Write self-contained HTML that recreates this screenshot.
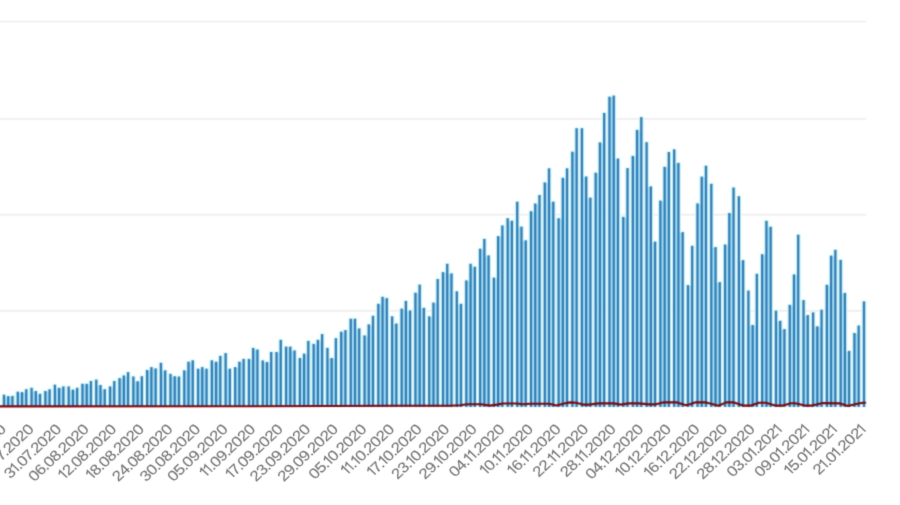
<!DOCTYPE html>
<html><head><meta charset="utf-8"><title>chart</title>
<style>
html,body{margin:0;padding:0;background:#fff;}
body{width:900px;height:505px;overflow:hidden;position:relative;font-family:"Liberation Sans",sans-serif;}
svg{position:absolute;left:0;top:0;display:block;}
.lb{font-family:"Liberation Sans",sans-serif;font-size:14.5px;fill:#777777;stroke:#777777;stroke-width:0.12px;}
</style></head><body>
<svg width="900" height="505" viewBox="0 0 900 505">
<defs><filter id="bl" filterUnits="userSpaceOnUse" x="0" y="0" width="900" height="505" color-interpolation-filters="sRGB"><feConvolveMatrix order="7 1" kernelMatrix="0.0001 0.0096 0.2054 0.5698 0.2054 0.0096 0.0001" edgeMode="duplicate" result="h"/><feConvolveMatrix in="h" order="1 7" kernelMatrix="0.0000 0.0026 0.1655 0.6638 0.1655 0.0026 0.0000" edgeMode="duplicate"/></filter><filter id="bt" filterUnits="userSpaceOnUse" x="0" y="0" width="900" height="505" color-interpolation-filters="sRGB"><feConvolveMatrix order="7 1" kernelMatrix="0.0000 0.0003 0.1065 0.7866 0.1065 0.0003 0.0000" edgeMode="duplicate" result="h"/><feConvolveMatrix in="h" order="1 7" kernelMatrix="0.0000 0.0003 0.1065 0.7866 0.1065 0.0003 0.0000" edgeMode="duplicate"/></filter></defs>
<rect x="0" y="0" width="900" height="505" fill="#ffffff"/>
<g filter="url(#bl)">
<rect x="-5" y="20.8" width="871" height="1.5" fill="#ebebeb"/>
<rect x="-5" y="118.2" width="871" height="1.5" fill="#ebebeb"/>
<rect x="-5" y="213.9" width="871" height="1.5" fill="#ebebeb"/>
<rect x="-5" y="310.1" width="871" height="1.5" fill="#ebebeb"/>
<g fill="#ddfdff">
<rect x="1.35" y="393.9" width="5.30" height="13.1"/>
<rect x="5.59" y="395.3" width="5.30" height="11.7"/>
<rect x="9.83" y="395.1" width="5.30" height="11.9"/>
<rect x="15.14" y="390.9" width="5.30" height="16.1"/>
<rect x="19.38" y="391.3" width="5.30" height="15.7"/>
<rect x="23.62" y="388.4" width="5.30" height="18.6"/>
<rect x="28.92" y="387.0" width="5.30" height="20.0"/>
<rect x="33.16" y="390.2" width="5.30" height="16.8"/>
<rect x="37.40" y="393.0" width="5.30" height="14.0"/>
<rect x="42.71" y="390.2" width="5.30" height="16.8"/>
<rect x="46.95" y="388.5" width="5.30" height="18.5"/>
<rect x="52.25" y="383.9" width="5.30" height="23.1"/>
<rect x="56.49" y="387.0" width="5.30" height="20.0"/>
<rect x="60.73" y="385.6" width="5.30" height="21.4"/>
<rect x="66.03" y="385.6" width="5.30" height="21.4"/>
<rect x="70.28" y="388.8" width="5.30" height="18.2"/>
<rect x="74.52" y="387.0" width="5.30" height="20.0"/>
<rect x="79.82" y="383.0" width="5.30" height="24.0"/>
<rect x="84.06" y="383.0" width="5.30" height="24.0"/>
<rect x="88.30" y="380.2" width="5.30" height="26.8"/>
<rect x="93.60" y="378.8" width="5.30" height="28.2"/>
<rect x="97.85" y="384.2" width="5.30" height="22.8"/>
<rect x="102.09" y="388.4" width="5.30" height="18.6"/>
<rect x="107.39" y="385.6" width="5.30" height="21.4"/>
<rect x="111.63" y="380.2" width="5.30" height="26.8"/>
<rect x="116.93" y="377.3" width="5.30" height="29.7"/>
<rect x="121.18" y="374.6" width="5.30" height="32.4"/>
<rect x="125.42" y="371.3" width="5.30" height="35.7"/>
<rect x="130.72" y="375.7" width="5.30" height="31.3"/>
<rect x="134.96" y="380.4" width="5.30" height="26.6"/>
<rect x="139.20" y="375.4" width="5.30" height="31.6"/>
<rect x="144.50" y="369.2" width="5.30" height="37.8"/>
<rect x="148.75" y="366.3" width="5.30" height="40.7"/>
<rect x="152.99" y="367.6" width="5.30" height="39.4"/>
<rect x="158.29" y="362.0" width="5.30" height="45.0"/>
<rect x="162.53" y="369.5" width="5.30" height="37.5"/>
<rect x="167.83" y="373.1" width="5.30" height="33.9"/>
<rect x="172.07" y="375.4" width="5.30" height="31.6"/>
<rect x="176.32" y="375.7" width="5.30" height="31.3"/>
<rect x="181.62" y="369.5" width="5.30" height="37.5"/>
<rect x="185.86" y="360.9" width="5.30" height="46.1"/>
<rect x="190.10" y="359.5" width="5.30" height="47.5"/>
<rect x="195.40" y="367.9" width="5.30" height="39.1"/>
<rect x="199.64" y="366.3" width="5.30" height="40.7"/>
<rect x="203.89" y="367.9" width="5.30" height="39.1"/>
<rect x="209.19" y="359.5" width="5.30" height="47.5"/>
<rect x="213.43" y="360.9" width="5.30" height="46.1"/>
<rect x="217.67" y="355.1" width="5.30" height="51.9"/>
<rect x="222.97" y="352.3" width="5.30" height="54.7"/>
<rect x="227.22" y="367.9" width="5.30" height="39.1"/>
<rect x="232.52" y="366.3" width="5.30" height="40.7"/>
<rect x="236.76" y="360.9" width="5.30" height="46.1"/>
<rect x="241.00" y="358.1" width="5.30" height="48.9"/>
<rect x="246.30" y="358.1" width="5.30" height="48.9"/>
<rect x="250.54" y="347.1" width="5.30" height="59.9"/>
<rect x="254.79" y="348.7" width="5.30" height="58.3"/>
<rect x="260.09" y="359.6" width="5.30" height="47.4"/>
<rect x="264.33" y="361.2" width="5.30" height="45.8"/>
<rect x="268.57" y="351.2" width="5.30" height="55.8"/>
<rect x="273.87" y="351.2" width="5.30" height="55.8"/>
<rect x="278.11" y="339.0" width="5.30" height="68.0"/>
<rect x="283.42" y="345.8" width="5.30" height="61.2"/>
<rect x="287.66" y="345.8" width="5.30" height="61.2"/>
<rect x="291.90" y="349.6" width="5.30" height="57.4"/>
<rect x="297.20" y="357.2" width="5.30" height="49.8"/>
<rect x="301.44" y="352.8" width="5.30" height="54.2"/>
<rect x="305.68" y="340.1" width="5.30" height="66.9"/>
<rect x="310.99" y="343.1" width="5.30" height="63.9"/>
<rect x="315.23" y="339.0" width="5.30" height="68.0"/>
<rect x="319.47" y="333.3" width="5.30" height="73.7"/>
<rect x="324.77" y="347.1" width="5.30" height="59.9"/>
<rect x="329.01" y="357.2" width="5.30" height="49.8"/>
<rect x="333.26" y="337.4" width="5.30" height="69.6"/>
<rect x="338.56" y="330.9" width="5.30" height="76.1"/>
<rect x="342.80" y="329.3" width="5.30" height="77.7"/>
<rect x="348.10" y="317.9" width="5.30" height="89.1"/>
<rect x="352.34" y="317.9" width="5.30" height="89.1"/>
<rect x="356.58" y="327.6" width="5.30" height="79.4"/>
<rect x="361.89" y="334.6" width="5.30" height="72.4"/>
<rect x="366.13" y="323.6" width="5.30" height="83.4"/>
<rect x="370.37" y="315.0" width="5.30" height="92.0"/>
<rect x="375.67" y="303.0" width="5.30" height="104.0"/>
<rect x="379.91" y="296.0" width="5.30" height="111.0"/>
<rect x="384.15" y="297.3" width="5.30" height="109.7"/>
<rect x="389.46" y="315.5" width="5.30" height="91.5"/>
<rect x="393.70" y="322.7" width="5.30" height="84.3"/>
<rect x="399.00" y="307.8" width="5.30" height="99.2"/>
<rect x="403.24" y="300.1" width="5.30" height="106.9"/>
<rect x="407.48" y="309.6" width="5.30" height="97.4"/>
<rect x="412.79" y="291.9" width="5.30" height="115.1"/>
<rect x="417.03" y="283.8" width="5.30" height="123.2"/>
<rect x="421.27" y="307.0" width="5.30" height="100.0"/>
<rect x="426.57" y="315.5" width="5.30" height="91.5"/>
<rect x="430.81" y="301.8" width="5.30" height="105.2"/>
<rect x="435.05" y="278.2" width="5.30" height="128.8"/>
<rect x="440.36" y="271.3" width="5.30" height="135.7"/>
<rect x="444.60" y="263.0" width="5.30" height="144.0"/>
<rect x="448.84" y="272.6" width="5.30" height="134.4"/>
<rect x="454.14" y="290.5" width="5.30" height="116.5"/>
<rect x="458.38" y="303.0" width="5.30" height="104.0"/>
<rect x="463.68" y="279.6" width="5.30" height="127.4"/>
<rect x="467.93" y="263.0" width="5.30" height="144.0"/>
<rect x="472.17" y="265.9" width="5.30" height="141.1"/>
<rect x="477.47" y="247.9" width="5.30" height="159.1"/>
<rect x="481.71" y="238.1" width="5.30" height="168.9"/>
<rect x="485.95" y="254.6" width="5.30" height="152.4"/>
<rect x="491.25" y="276.8" width="5.30" height="130.2"/>
<rect x="495.50" y="235.3" width="5.30" height="171.7"/>
<rect x="499.74" y="224.6" width="5.30" height="182.4"/>
<rect x="505.04" y="217.4" width="5.30" height="189.6"/>
<rect x="509.28" y="219.9" width="5.30" height="187.1"/>
<rect x="514.58" y="200.9" width="5.30" height="206.1"/>
<rect x="518.83" y="225.8" width="5.30" height="181.2"/>
<rect x="523.07" y="239.5" width="5.30" height="167.5"/>
<rect x="528.37" y="210.4" width="5.30" height="196.6"/>
<rect x="532.61" y="202.7" width="5.30" height="204.3"/>
<rect x="536.85" y="194.2" width="5.30" height="212.8"/>
<rect x="542.15" y="181.6" width="5.30" height="225.4"/>
<rect x="546.40" y="167.5" width="5.30" height="239.5"/>
<rect x="550.64" y="200.9" width="5.30" height="206.1"/>
<rect x="555.94" y="217.4" width="5.30" height="189.6"/>
<rect x="560.18" y="177.0" width="5.30" height="230.0"/>
<rect x="564.42" y="167.5" width="5.30" height="239.5"/>
<rect x="569.72" y="150.9" width="5.30" height="256.1"/>
<rect x="573.97" y="127.4" width="5.30" height="279.6"/>
<rect x="579.27" y="127.4" width="5.30" height="279.6"/>
<rect x="583.51" y="175.7" width="5.30" height="231.3"/>
<rect x="587.75" y="196.8" width="5.30" height="210.2"/>
<rect x="593.05" y="171.9" width="5.30" height="235.1"/>
<rect x="597.29" y="141.6" width="5.30" height="265.4"/>
<rect x="601.54" y="112.1" width="5.30" height="294.9"/>
<rect x="606.84" y="95.9" width="5.30" height="311.1"/>
<rect x="611.08" y="94.8" width="5.30" height="312.2"/>
<rect x="615.32" y="157.7" width="5.30" height="249.3"/>
<rect x="620.62" y="216.1" width="5.30" height="190.9"/>
<rect x="624.87" y="167.3" width="5.30" height="239.7"/>
<rect x="630.17" y="155.1" width="5.30" height="251.9"/>
<rect x="634.41" y="129.1" width="5.30" height="277.9"/>
<rect x="638.65" y="116.3" width="5.30" height="290.7"/>
<rect x="643.95" y="141.4" width="5.30" height="265.6"/>
<rect x="648.19" y="185.6" width="5.30" height="221.4"/>
<rect x="652.44" y="240.8" width="5.30" height="166.2"/>
<rect x="657.74" y="199.8" width="5.30" height="207.2"/>
<rect x="661.98" y="166.0" width="5.30" height="241.0"/>
<rect x="666.22" y="151.2" width="5.30" height="255.8"/>
<rect x="671.52" y="148.5" width="5.30" height="258.5"/>
<rect x="675.76" y="162.1" width="5.30" height="244.9"/>
<rect x="680.01" y="231.3" width="5.30" height="175.7"/>
<rect x="685.31" y="284.3" width="5.30" height="122.7"/>
<rect x="689.55" y="245.0" width="5.30" height="162.0"/>
<rect x="694.85" y="202.6" width="5.30" height="204.4"/>
<rect x="699.09" y="175.8" width="5.30" height="231.2"/>
<rect x="703.33" y="164.9" width="5.30" height="242.1"/>
<rect x="708.64" y="183.0" width="5.30" height="224.0"/>
<rect x="712.88" y="246.3" width="5.30" height="160.7"/>
<rect x="717.12" y="281.3" width="5.30" height="125.7"/>
<rect x="722.42" y="243.7" width="5.30" height="163.3"/>
<rect x="726.66" y="212.2" width="5.30" height="194.8"/>
<rect x="730.91" y="186.7" width="5.30" height="220.3"/>
<rect x="736.21" y="195.4" width="5.30" height="211.6"/>
<rect x="740.45" y="259.3" width="5.30" height="147.7"/>
<rect x="745.75" y="289.8" width="5.30" height="117.2"/>
<rect x="749.99" y="324.2" width="5.30" height="82.8"/>
<rect x="754.23" y="273.0" width="5.30" height="134.0"/>
<rect x="759.54" y="253.4" width="5.30" height="153.6"/>
<rect x="763.78" y="220.0" width="5.30" height="187.0"/>
<rect x="768.02" y="225.9" width="5.30" height="181.1"/>
<rect x="773.32" y="309.8" width="5.30" height="97.2"/>
<rect x="777.56" y="320.0" width="5.30" height="87.0"/>
<rect x="781.80" y="328.3" width="5.30" height="78.7"/>
<rect x="787.11" y="304.0" width="5.30" height="103.0"/>
<rect x="791.35" y="273.6" width="5.30" height="133.4"/>
<rect x="795.59" y="233.9" width="5.30" height="173.1"/>
<rect x="800.89" y="299.3" width="5.30" height="107.7"/>
<rect x="805.13" y="314.3" width="5.30" height="92.7"/>
<rect x="810.44" y="311.6" width="5.30" height="95.4"/>
<rect x="814.68" y="325.5" width="5.30" height="81.5"/>
<rect x="818.92" y="308.9" width="5.30" height="98.1"/>
<rect x="824.22" y="284.0" width="5.30" height="123.0"/>
<rect x="828.46" y="254.8" width="5.30" height="152.2"/>
<rect x="832.70" y="249.0" width="5.30" height="158.0"/>
<rect x="838.01" y="259.1" width="5.30" height="147.9"/>
<rect x="842.25" y="292.1" width="5.30" height="114.9"/>
<rect x="846.49" y="350.1" width="5.30" height="56.9"/>
<rect x="851.79" y="332.2" width="5.30" height="74.8"/>
<rect x="856.03" y="324.7" width="5.30" height="82.3"/>
<rect x="861.33" y="300.6" width="5.30" height="106.4"/>
</g>
<g fill="#b4ecff">
<rect x="4.00" y="397.0" width="4.24" height="10.0"/>
<rect x="8.24" y="397.0" width="4.24" height="10.0"/>
<rect x="17.79" y="393.0" width="4.24" height="14.0"/>
<rect x="22.03" y="393.0" width="4.24" height="14.0"/>
<rect x="31.57" y="391.9" width="4.24" height="15.1"/>
<rect x="35.81" y="394.7" width="4.24" height="12.3"/>
<rect x="45.36" y="391.9" width="4.24" height="15.1"/>
<rect x="54.90" y="388.7" width="4.24" height="18.3"/>
<rect x="59.14" y="388.7" width="4.24" height="18.3"/>
<rect x="68.68" y="390.5" width="4.24" height="16.5"/>
<rect x="72.93" y="390.5" width="4.24" height="16.5"/>
<rect x="82.47" y="384.7" width="4.24" height="22.3"/>
<rect x="86.71" y="384.7" width="4.24" height="22.3"/>
<rect x="96.25" y="385.9" width="4.24" height="21.1"/>
<rect x="100.50" y="390.1" width="4.24" height="16.9"/>
<rect x="110.04" y="387.3" width="4.24" height="19.7"/>
<rect x="119.58" y="379.0" width="4.24" height="28.0"/>
<rect x="123.83" y="376.3" width="4.24" height="30.7"/>
<rect x="133.37" y="382.1" width="4.24" height="24.9"/>
<rect x="137.61" y="382.1" width="4.24" height="24.9"/>
<rect x="147.15" y="370.9" width="4.24" height="36.1"/>
<rect x="151.40" y="369.3" width="4.24" height="37.7"/>
<rect x="160.94" y="371.2" width="4.24" height="35.8"/>
<rect x="170.48" y="377.1" width="4.24" height="29.9"/>
<rect x="174.72" y="377.4" width="4.24" height="29.6"/>
<rect x="184.27" y="371.2" width="4.24" height="35.8"/>
<rect x="188.51" y="362.6" width="4.24" height="44.4"/>
<rect x="198.05" y="369.6" width="4.24" height="37.4"/>
<rect x="202.29" y="369.6" width="4.24" height="37.4"/>
<rect x="211.84" y="362.6" width="4.24" height="44.4"/>
<rect x="216.08" y="362.6" width="4.24" height="44.4"/>
<rect x="225.62" y="369.6" width="4.24" height="37.4"/>
<rect x="235.17" y="368.0" width="4.24" height="39.0"/>
<rect x="239.41" y="362.6" width="4.24" height="44.4"/>
<rect x="248.95" y="359.8" width="4.24" height="47.2"/>
<rect x="253.19" y="350.4" width="4.24" height="56.6"/>
<rect x="262.74" y="362.9" width="4.24" height="44.1"/>
<rect x="266.98" y="362.9" width="4.24" height="44.1"/>
<rect x="276.52" y="352.9" width="4.24" height="54.1"/>
<rect x="286.07" y="347.5" width="4.24" height="59.5"/>
<rect x="290.31" y="351.3" width="4.24" height="55.7"/>
<rect x="299.85" y="358.9" width="4.24" height="48.1"/>
<rect x="304.09" y="354.5" width="4.24" height="52.5"/>
<rect x="313.64" y="344.8" width="4.24" height="62.2"/>
<rect x="317.88" y="340.7" width="4.24" height="66.3"/>
<rect x="327.42" y="358.9" width="4.24" height="48.1"/>
<rect x="331.66" y="358.9" width="4.24" height="48.1"/>
<rect x="341.21" y="332.6" width="4.24" height="74.4"/>
<rect x="350.75" y="319.6" width="4.24" height="87.4"/>
<rect x="354.99" y="329.3" width="4.24" height="77.7"/>
<rect x="364.54" y="336.3" width="4.24" height="70.7"/>
<rect x="368.78" y="325.3" width="4.24" height="81.7"/>
<rect x="378.32" y="304.7" width="4.24" height="102.3"/>
<rect x="382.56" y="299.0" width="4.24" height="108.0"/>
<rect x="392.11" y="324.4" width="4.24" height="82.6"/>
<rect x="401.65" y="309.5" width="4.24" height="97.5"/>
<rect x="405.89" y="311.3" width="4.24" height="95.7"/>
<rect x="415.44" y="293.6" width="4.24" height="113.4"/>
<rect x="419.68" y="308.7" width="4.24" height="98.3"/>
<rect x="429.22" y="317.2" width="4.24" height="89.8"/>
<rect x="433.46" y="303.5" width="4.24" height="103.5"/>
<rect x="443.01" y="273.0" width="4.24" height="134.0"/>
<rect x="447.25" y="274.3" width="4.24" height="132.7"/>
<rect x="456.79" y="304.7" width="4.24" height="102.3"/>
<rect x="466.33" y="281.3" width="4.24" height="125.7"/>
<rect x="470.58" y="267.6" width="4.24" height="139.4"/>
<rect x="480.12" y="249.6" width="4.24" height="157.4"/>
<rect x="484.36" y="256.3" width="4.24" height="150.7"/>
<rect x="493.90" y="278.5" width="4.24" height="128.5"/>
<rect x="498.15" y="237.0" width="4.24" height="170.0"/>
<rect x="507.69" y="221.6" width="4.24" height="185.4"/>
<rect x="517.23" y="227.5" width="4.24" height="179.5"/>
<rect x="521.48" y="241.2" width="4.24" height="165.8"/>
<rect x="531.02" y="212.1" width="4.24" height="194.9"/>
<rect x="535.26" y="204.4" width="4.24" height="202.6"/>
<rect x="544.80" y="183.3" width="4.24" height="223.7"/>
<rect x="549.05" y="202.6" width="4.24" height="204.4"/>
<rect x="558.59" y="219.1" width="4.24" height="187.9"/>
<rect x="562.83" y="178.7" width="4.24" height="228.3"/>
<rect x="572.37" y="152.6" width="4.24" height="254.4"/>
<rect x="581.92" y="177.4" width="4.24" height="229.6"/>
<rect x="586.16" y="198.5" width="4.24" height="208.5"/>
<rect x="595.70" y="173.6" width="4.24" height="233.4"/>
<rect x="599.94" y="143.3" width="4.24" height="263.7"/>
<rect x="609.49" y="97.6" width="4.24" height="309.4"/>
<rect x="613.73" y="159.4" width="4.24" height="247.6"/>
<rect x="623.27" y="217.8" width="4.24" height="189.2"/>
<rect x="632.82" y="156.8" width="4.24" height="250.2"/>
<rect x="637.06" y="130.8" width="4.24" height="276.2"/>
<rect x="646.60" y="187.3" width="4.24" height="219.7"/>
<rect x="650.84" y="242.5" width="4.24" height="164.5"/>
<rect x="660.39" y="201.5" width="4.24" height="205.5"/>
<rect x="664.63" y="167.7" width="4.24" height="239.3"/>
<rect x="674.17" y="163.8" width="4.24" height="243.2"/>
<rect x="678.41" y="233.0" width="4.24" height="174.0"/>
<rect x="687.96" y="286.0" width="4.24" height="121.0"/>
<rect x="697.50" y="204.3" width="4.24" height="202.7"/>
<rect x="701.74" y="177.5" width="4.24" height="229.5"/>
<rect x="711.29" y="248.0" width="4.24" height="159.0"/>
<rect x="715.53" y="283.0" width="4.24" height="124.0"/>
<rect x="725.07" y="245.4" width="4.24" height="161.6"/>
<rect x="729.31" y="213.9" width="4.24" height="193.1"/>
<rect x="738.86" y="261.0" width="4.24" height="146.0"/>
<rect x="748.40" y="325.9" width="4.24" height="81.1"/>
<rect x="752.64" y="325.9" width="4.24" height="81.1"/>
<rect x="762.19" y="255.1" width="4.24" height="151.9"/>
<rect x="766.43" y="227.6" width="4.24" height="179.4"/>
<rect x="775.97" y="321.7" width="4.24" height="85.3"/>
<rect x="780.21" y="330.0" width="4.24" height="77.0"/>
<rect x="789.76" y="305.7" width="4.24" height="101.3"/>
<rect x="794.00" y="275.3" width="4.24" height="131.7"/>
<rect x="803.54" y="316.0" width="4.24" height="91.0"/>
<rect x="813.09" y="327.2" width="4.24" height="79.8"/>
<rect x="817.33" y="327.2" width="4.24" height="79.8"/>
<rect x="826.87" y="285.7" width="4.24" height="121.3"/>
<rect x="831.11" y="256.5" width="4.24" height="150.5"/>
<rect x="840.66" y="293.8" width="4.24" height="113.2"/>
<rect x="844.90" y="351.8" width="4.24" height="55.2"/>
<rect x="854.44" y="333.9" width="4.24" height="73.1"/>
</g>
<g fill="#2873ad">
<rect x="2.85" y="394.7" width="2.30" height="12.3"/>
<rect x="7.09" y="396.1" width="2.30" height="10.9"/>
<rect x="11.33" y="395.9" width="2.30" height="11.1"/>
<rect x="16.64" y="391.7" width="2.30" height="15.3"/>
<rect x="20.88" y="392.1" width="2.30" height="14.9"/>
<rect x="25.12" y="389.2" width="2.30" height="17.8"/>
<rect x="30.42" y="387.8" width="2.30" height="19.2"/>
<rect x="34.66" y="391.0" width="2.30" height="16.0"/>
<rect x="38.90" y="393.8" width="2.30" height="13.2"/>
<rect x="44.21" y="391.0" width="2.30" height="16.0"/>
<rect x="48.45" y="389.3" width="2.30" height="17.7"/>
<rect x="53.75" y="384.7" width="2.30" height="22.3"/>
<rect x="57.99" y="387.8" width="2.30" height="19.2"/>
<rect x="62.23" y="386.4" width="2.30" height="20.6"/>
<rect x="67.53" y="386.4" width="2.30" height="20.6"/>
<rect x="71.78" y="389.6" width="2.30" height="17.4"/>
<rect x="76.02" y="387.8" width="2.30" height="19.2"/>
<rect x="81.32" y="383.8" width="2.30" height="23.2"/>
<rect x="85.56" y="383.8" width="2.30" height="23.2"/>
<rect x="89.80" y="381.0" width="2.30" height="26.0"/>
<rect x="95.10" y="379.6" width="2.30" height="27.4"/>
<rect x="99.35" y="385.0" width="2.30" height="22.0"/>
<rect x="103.59" y="389.2" width="2.30" height="17.8"/>
<rect x="108.89" y="386.4" width="2.30" height="20.6"/>
<rect x="113.13" y="381.0" width="2.30" height="26.0"/>
<rect x="118.43" y="378.1" width="2.30" height="28.9"/>
<rect x="122.68" y="375.4" width="2.30" height="31.6"/>
<rect x="126.92" y="372.1" width="2.30" height="34.9"/>
<rect x="132.22" y="376.5" width="2.30" height="30.5"/>
<rect x="136.46" y="381.2" width="2.30" height="25.8"/>
<rect x="140.70" y="376.2" width="2.30" height="30.8"/>
<rect x="146.00" y="370.0" width="2.30" height="37.0"/>
<rect x="150.25" y="367.1" width="2.30" height="39.9"/>
<rect x="154.49" y="368.4" width="2.30" height="38.6"/>
<rect x="159.79" y="362.8" width="2.30" height="44.2"/>
<rect x="164.03" y="370.3" width="2.30" height="36.7"/>
<rect x="169.33" y="373.9" width="2.30" height="33.1"/>
<rect x="173.57" y="376.2" width="2.30" height="30.8"/>
<rect x="177.82" y="376.5" width="2.30" height="30.5"/>
<rect x="183.12" y="370.3" width="2.30" height="36.7"/>
<rect x="187.36" y="361.7" width="2.30" height="45.3"/>
<rect x="191.60" y="360.3" width="2.30" height="46.7"/>
<rect x="196.90" y="368.7" width="2.30" height="38.3"/>
<rect x="201.14" y="367.1" width="2.30" height="39.9"/>
<rect x="205.39" y="368.7" width="2.30" height="38.3"/>
<rect x="210.69" y="360.3" width="2.30" height="46.7"/>
<rect x="214.93" y="361.7" width="2.30" height="45.3"/>
<rect x="219.17" y="355.9" width="2.30" height="51.1"/>
<rect x="224.47" y="353.1" width="2.30" height="53.9"/>
<rect x="228.72" y="368.7" width="2.30" height="38.3"/>
<rect x="234.02" y="367.1" width="2.30" height="39.9"/>
<rect x="238.26" y="361.7" width="2.30" height="45.3"/>
<rect x="242.50" y="358.9" width="2.30" height="48.1"/>
<rect x="247.80" y="358.9" width="2.30" height="48.1"/>
<rect x="252.04" y="347.9" width="2.30" height="59.1"/>
<rect x="256.29" y="349.5" width="2.30" height="57.5"/>
<rect x="261.59" y="360.4" width="2.30" height="46.6"/>
<rect x="265.83" y="362.0" width="2.30" height="45.0"/>
<rect x="270.07" y="352.0" width="2.30" height="55.0"/>
<rect x="275.37" y="352.0" width="2.30" height="55.0"/>
<rect x="279.61" y="339.8" width="2.30" height="67.2"/>
<rect x="284.92" y="346.6" width="2.30" height="60.4"/>
<rect x="289.16" y="346.6" width="2.30" height="60.4"/>
<rect x="293.40" y="350.4" width="2.30" height="56.6"/>
<rect x="298.70" y="358.0" width="2.30" height="49.0"/>
<rect x="302.94" y="353.6" width="2.30" height="53.4"/>
<rect x="307.18" y="340.9" width="2.30" height="66.1"/>
<rect x="312.49" y="343.9" width="2.30" height="63.1"/>
<rect x="316.73" y="339.8" width="2.30" height="67.2"/>
<rect x="320.97" y="334.1" width="2.30" height="72.9"/>
<rect x="326.27" y="347.9" width="2.30" height="59.1"/>
<rect x="330.51" y="358.0" width="2.30" height="49.0"/>
<rect x="334.76" y="338.2" width="2.30" height="68.8"/>
<rect x="340.06" y="331.7" width="2.30" height="75.3"/>
<rect x="344.30" y="330.1" width="2.30" height="76.9"/>
<rect x="349.60" y="318.7" width="2.30" height="88.3"/>
<rect x="353.84" y="318.7" width="2.30" height="88.3"/>
<rect x="358.08" y="328.4" width="2.30" height="78.6"/>
<rect x="363.39" y="335.4" width="2.30" height="71.6"/>
<rect x="367.63" y="324.4" width="2.30" height="82.6"/>
<rect x="371.87" y="315.8" width="2.30" height="91.2"/>
<rect x="377.17" y="303.8" width="2.30" height="103.2"/>
<rect x="381.41" y="296.8" width="2.30" height="110.2"/>
<rect x="385.65" y="298.1" width="2.30" height="108.9"/>
<rect x="390.96" y="316.3" width="2.30" height="90.7"/>
<rect x="395.20" y="323.5" width="2.30" height="83.5"/>
<rect x="400.50" y="308.6" width="2.30" height="98.4"/>
<rect x="404.74" y="300.9" width="2.30" height="106.1"/>
<rect x="408.98" y="310.4" width="2.30" height="96.6"/>
<rect x="414.29" y="292.7" width="2.30" height="114.3"/>
<rect x="418.53" y="284.6" width="2.30" height="122.4"/>
<rect x="422.77" y="307.8" width="2.30" height="99.2"/>
<rect x="428.07" y="316.3" width="2.30" height="90.7"/>
<rect x="432.31" y="302.6" width="2.30" height="104.4"/>
<rect x="436.55" y="279.0" width="2.30" height="128.0"/>
<rect x="441.86" y="272.1" width="2.30" height="134.9"/>
<rect x="446.10" y="263.8" width="2.30" height="143.2"/>
<rect x="450.34" y="273.4" width="2.30" height="133.6"/>
<rect x="455.64" y="291.3" width="2.30" height="115.7"/>
<rect x="459.88" y="303.8" width="2.30" height="103.2"/>
<rect x="465.18" y="280.4" width="2.30" height="126.6"/>
<rect x="469.43" y="263.8" width="2.30" height="143.2"/>
<rect x="473.67" y="266.7" width="2.30" height="140.3"/>
<rect x="478.97" y="248.7" width="2.30" height="158.3"/>
<rect x="483.21" y="238.9" width="2.30" height="168.1"/>
<rect x="487.45" y="255.4" width="2.30" height="151.6"/>
<rect x="492.75" y="277.6" width="2.30" height="129.4"/>
<rect x="497.00" y="236.1" width="2.30" height="170.9"/>
<rect x="501.24" y="225.4" width="2.30" height="181.6"/>
<rect x="506.54" y="218.2" width="2.30" height="188.8"/>
<rect x="510.78" y="220.7" width="2.30" height="186.3"/>
<rect x="516.08" y="201.7" width="2.30" height="205.3"/>
<rect x="520.33" y="226.6" width="2.30" height="180.4"/>
<rect x="524.57" y="240.3" width="2.30" height="166.7"/>
<rect x="529.87" y="211.2" width="2.30" height="195.8"/>
<rect x="534.11" y="203.5" width="2.30" height="203.5"/>
<rect x="538.35" y="195.0" width="2.30" height="212.0"/>
<rect x="543.65" y="182.4" width="2.30" height="224.6"/>
<rect x="547.90" y="168.3" width="2.30" height="238.7"/>
<rect x="552.14" y="201.7" width="2.30" height="205.3"/>
<rect x="557.44" y="218.2" width="2.30" height="188.8"/>
<rect x="561.68" y="177.8" width="2.30" height="229.2"/>
<rect x="565.92" y="168.3" width="2.30" height="238.7"/>
<rect x="571.22" y="151.7" width="2.30" height="255.3"/>
<rect x="575.47" y="128.2" width="2.30" height="278.8"/>
<rect x="580.77" y="128.2" width="2.30" height="278.8"/>
<rect x="585.01" y="176.5" width="2.30" height="230.5"/>
<rect x="589.25" y="197.6" width="2.30" height="209.4"/>
<rect x="594.55" y="172.7" width="2.30" height="234.3"/>
<rect x="598.79" y="142.4" width="2.30" height="264.6"/>
<rect x="603.04" y="112.9" width="2.30" height="294.1"/>
<rect x="608.34" y="96.7" width="2.30" height="310.3"/>
<rect x="612.58" y="95.6" width="2.30" height="311.4"/>
<rect x="616.82" y="158.5" width="2.30" height="248.5"/>
<rect x="622.12" y="216.9" width="2.30" height="190.1"/>
<rect x="626.37" y="168.1" width="2.30" height="238.9"/>
<rect x="631.67" y="155.9" width="2.30" height="251.1"/>
<rect x="635.91" y="129.9" width="2.30" height="277.1"/>
<rect x="640.15" y="117.1" width="2.30" height="289.9"/>
<rect x="645.45" y="142.2" width="2.30" height="264.8"/>
<rect x="649.69" y="186.4" width="2.30" height="220.6"/>
<rect x="653.94" y="241.6" width="2.30" height="165.4"/>
<rect x="659.24" y="200.6" width="2.30" height="206.4"/>
<rect x="663.48" y="166.8" width="2.30" height="240.2"/>
<rect x="667.72" y="152.0" width="2.30" height="255.0"/>
<rect x="673.02" y="149.3" width="2.30" height="257.7"/>
<rect x="677.26" y="162.9" width="2.30" height="244.1"/>
<rect x="681.51" y="232.1" width="2.30" height="174.9"/>
<rect x="686.81" y="285.1" width="2.30" height="121.9"/>
<rect x="691.05" y="245.8" width="2.30" height="161.2"/>
<rect x="696.35" y="203.4" width="2.30" height="203.6"/>
<rect x="700.59" y="176.6" width="2.30" height="230.4"/>
<rect x="704.83" y="165.7" width="2.30" height="241.3"/>
<rect x="710.14" y="183.8" width="2.30" height="223.2"/>
<rect x="714.38" y="247.1" width="2.30" height="159.9"/>
<rect x="718.62" y="282.1" width="2.30" height="124.9"/>
<rect x="723.92" y="244.5" width="2.30" height="162.5"/>
<rect x="728.16" y="213.0" width="2.30" height="194.0"/>
<rect x="732.41" y="187.5" width="2.30" height="219.5"/>
<rect x="737.71" y="196.2" width="2.30" height="210.8"/>
<rect x="741.95" y="260.1" width="2.30" height="146.9"/>
<rect x="747.25" y="290.6" width="2.30" height="116.4"/>
<rect x="751.49" y="325.0" width="2.30" height="82.0"/>
<rect x="755.73" y="273.8" width="2.30" height="133.2"/>
<rect x="761.04" y="254.2" width="2.30" height="152.8"/>
<rect x="765.28" y="220.8" width="2.30" height="186.2"/>
<rect x="769.52" y="226.7" width="2.30" height="180.3"/>
<rect x="774.82" y="310.6" width="2.30" height="96.4"/>
<rect x="779.06" y="320.8" width="2.30" height="86.2"/>
<rect x="783.30" y="329.1" width="2.30" height="77.9"/>
<rect x="788.61" y="304.8" width="2.30" height="102.2"/>
<rect x="792.85" y="274.4" width="2.30" height="132.6"/>
<rect x="797.09" y="234.7" width="2.30" height="172.3"/>
<rect x="802.39" y="300.1" width="2.30" height="106.9"/>
<rect x="806.63" y="315.1" width="2.30" height="91.9"/>
<rect x="811.94" y="312.4" width="2.30" height="94.6"/>
<rect x="816.18" y="326.3" width="2.30" height="80.7"/>
<rect x="820.42" y="309.7" width="2.30" height="97.3"/>
<rect x="825.72" y="284.8" width="2.30" height="122.2"/>
<rect x="829.96" y="255.6" width="2.30" height="151.4"/>
<rect x="834.20" y="249.8" width="2.30" height="157.2"/>
<rect x="839.51" y="259.9" width="2.30" height="147.1"/>
<rect x="843.75" y="292.9" width="2.30" height="114.1"/>
<rect x="847.99" y="350.9" width="2.30" height="56.1"/>
<rect x="853.29" y="333.0" width="2.30" height="74.0"/>
<rect x="857.53" y="325.5" width="2.30" height="81.5"/>
<rect x="862.83" y="301.4" width="2.30" height="105.6"/>
</g>
<path d="M-5.0 406.4 L220.0 406.3 L330.0 406.0 L400.0 405.8 L450.0 405.7 L460.0 405.2 L467.0 404.2 L481.0 404.2 L490.0 405.6 L497.0 404.6 L503.0 403.5 L517.0 403.5 L523.0 404.3 L530.0 403.7 L549.0 403.7 L556.7 405.6 L563.0 403.8 L570.0 402.4 L576.0 402.8 L583.0 404.6 L589.0 404.6 L599.0 403.4 L614.0 403.4 L620.7 404.6 L629.0 403.4 L639.0 403.4 L649.0 404.4 L655.0 404.4 L663.0 402.4 L677.0 402.4 L686.0 405.3 L690.0 404.2 L695.0 402.4 L706.0 402.4 L718.7 405.7 L726.0 402.4 L734.0 402.4 L743.0 405.6 L751.0 405.6 L759.0 402.7 L766.0 402.7 L775.0 405.6 L783.0 405.6 L791.0 403.2 L795.0 403.2 L805.0 405.6 L812.0 405.6 L823.0 403.1 L840.0 403.4 L848.0 406.0 L856.0 404.0 L863.0 402.7 L866.0 402.7" fill="none" stroke="#7d050c" stroke-width="2.1" stroke-linejoin="round"/>
</g>
<g filter="url(#bt)">
<g transform="translate(867.0 430.2) scale(1.06 1) rotate(-45)"><text class="lb" transform="scale(1.1 1)" x="-58.21 -46.24 -43.03 -31.06 -27.85 -20.21 -12.58" y="0">2.0.202</text><path d="M-55.31 -7.51 L-52.18 -9.65 L-52.18 0 M-38.61 -7.51 L-35.48 -9.65 L-35.48 0 M-5.11 -7.51 L-1.98 -9.65 L-1.98 0" fill="none" stroke="#777777" stroke-width="1.35" stroke-linejoin="miter"/></g>
<g transform="translate(838.4 430.2) scale(1.06 1) rotate(-45)"><text class="lb" transform="scale(1.1 1)" x="-53.49 -46.24 -43.03 -31.06 -27.85 -20.21 -12.58" y="0">5.0.202</text><path d="M-63.71 -7.51 L-60.58 -9.65 L-60.58 0 M-38.61 -7.51 L-35.48 -9.65 L-35.48 0 M-5.11 -7.51 L-1.98 -9.65 L-1.98 0" fill="none" stroke="#777777" stroke-width="1.35" stroke-linejoin="miter"/></g>
<g transform="translate(810.8 430.2) scale(1.06 1) rotate(-45)"><text class="lb" transform="scale(1.1 1)" x="-61.12 -53.49 -46.24 -43.03 -31.06 -27.85 -20.21 -12.58" y="0">09.0.202</text><path d="M-38.61 -7.51 L-35.48 -9.65 L-35.48 0 M-5.11 -7.51 L-1.98 -9.65 L-1.98 0" fill="none" stroke="#777777" stroke-width="1.35" stroke-linejoin="miter"/></g>
<g transform="translate(783.2 430.2) scale(1.06 1) rotate(-45)"><text class="lb" transform="scale(1.1 1)" x="-61.12 -53.49 -46.24 -43.03 -31.06 -27.85 -20.21 -12.58" y="0">03.0.202</text><path d="M-38.61 -7.51 L-35.48 -9.65 L-35.48 0 M-5.11 -7.51 L-1.98 -9.65 L-1.98 0" fill="none" stroke="#777777" stroke-width="1.35" stroke-linejoin="miter"/></g>
<g transform="translate(755.6 430.2) scale(1.06 1) rotate(-45)"><text class="lb" transform="scale(1.1 1)" x="-64.03 -56.39 -49.15 -41.21 -33.97 -30.76 -23.12 -15.49 -7.85" y="0">28.2.2020</text><path d="M-50.21 -7.51 L-47.08 -9.65 L-47.08 0" fill="none" stroke="#777777" stroke-width="1.35" stroke-linejoin="miter"/></g>
<g transform="translate(728.1 430.2) scale(1.06 1) rotate(-45)"><text class="lb" transform="scale(1.1 1)" x="-64.03 -56.39 -49.15 -41.21 -33.97 -30.76 -23.12 -15.49 -7.85" y="0">22.2.2020</text><path d="M-50.21 -7.51 L-47.08 -9.65 L-47.08 0" fill="none" stroke="#777777" stroke-width="1.35" stroke-linejoin="miter"/></g>
<g transform="translate(700.5 430.2) scale(1.06 1) rotate(-45)"><text class="lb" transform="scale(1.1 1)" x="-56.39 -49.15 -41.21 -33.97 -30.76 -23.12 -15.49 -7.85" y="0">6.2.2020</text><path d="M-66.91 -7.51 L-63.78 -9.65 L-63.78 0 M-50.21 -7.51 L-47.08 -9.65 L-47.08 0" fill="none" stroke="#777777" stroke-width="1.35" stroke-linejoin="miter"/></g>
<g transform="translate(671.9 430.2) scale(1.06 1) rotate(-45)"><text class="lb" transform="scale(1.1 1)" x="-56.39 -49.15 -41.21 -33.97 -30.76 -23.12 -15.49 -7.85" y="0">0.2.2020</text><path d="M-66.91 -7.51 L-63.78 -9.65 L-63.78 0 M-50.21 -7.51 L-47.08 -9.65 L-47.08 0" fill="none" stroke="#777777" stroke-width="1.35" stroke-linejoin="miter"/></g>
<g transform="translate(644.3 430.2) scale(1.06 1) rotate(-45)"><text class="lb" transform="scale(1.1 1)" x="-64.03 -56.39 -49.15 -41.21 -33.97 -30.76 -23.12 -15.49 -7.85" y="0">04.2.2020</text><path d="M-50.21 -7.51 L-47.08 -9.65 L-47.08 0" fill="none" stroke="#777777" stroke-width="1.35" stroke-linejoin="miter"/></g>
<g transform="translate(616.7 430.2) scale(1.06 1) rotate(-45)"><text class="lb" transform="scale(1.1 1)" x="-61.12 -53.49 -46.24 -33.97 -30.76 -23.12 -15.49 -7.85" y="0">28..2020</text><path d="M-47.01 -7.51 L-43.88 -9.65 L-43.88 0 M-41.81 -7.51 L-38.68 -9.65 L-38.68 0" fill="none" stroke="#777777" stroke-width="1.35" stroke-linejoin="miter"/></g>
<g transform="translate(589.2 430.2) scale(1.06 1) rotate(-45)"><text class="lb" transform="scale(1.1 1)" x="-61.12 -53.49 -46.24 -33.97 -30.76 -23.12 -15.49 -7.85" y="0">22..2020</text><path d="M-47.01 -7.51 L-43.88 -9.65 L-43.88 0 M-41.81 -7.51 L-38.68 -9.65 L-38.68 0" fill="none" stroke="#777777" stroke-width="1.35" stroke-linejoin="miter"/></g>
<g transform="translate(561.6 430.2) scale(1.06 1) rotate(-45)"><text class="lb" transform="scale(1.1 1)" x="-53.49 -46.24 -33.97 -30.76 -23.12 -15.49 -7.85" y="0">6..2020</text><path d="M-63.71 -7.51 L-60.58 -9.65 L-60.58 0 M-47.01 -7.51 L-43.88 -9.65 L-43.88 0 M-41.81 -7.51 L-38.68 -9.65 L-38.68 0" fill="none" stroke="#777777" stroke-width="1.35" stroke-linejoin="miter"/></g>
<g transform="translate(534.0 430.2) scale(1.06 1) rotate(-45)"><text class="lb" transform="scale(1.1 1)" x="-53.49 -46.24 -33.97 -30.76 -23.12 -15.49 -7.85" y="0">0..2020</text><path d="M-63.71 -7.51 L-60.58 -9.65 L-60.58 0 M-47.01 -7.51 L-43.88 -9.65 L-43.88 0 M-41.81 -7.51 L-38.68 -9.65 L-38.68 0" fill="none" stroke="#777777" stroke-width="1.35" stroke-linejoin="miter"/></g>
<g transform="translate(505.4 430.2) scale(1.06 1) rotate(-45)"><text class="lb" transform="scale(1.1 1)" x="-61.12 -53.49 -46.24 -33.97 -30.76 -23.12 -15.49 -7.85" y="0">04..2020</text><path d="M-47.01 -7.51 L-43.88 -9.65 L-43.88 0 M-41.81 -7.51 L-38.68 -9.65 L-38.68 0" fill="none" stroke="#777777" stroke-width="1.35" stroke-linejoin="miter"/></g>
<g transform="translate(477.8 430.2) scale(1.06 1) rotate(-45)"><text class="lb" transform="scale(1.1 1)" x="-64.03 -56.39 -49.15 -41.21 -33.97 -30.76 -23.12 -15.49 -7.85" y="0">29.0.2020</text><path d="M-50.21 -7.51 L-47.08 -9.65 L-47.08 0" fill="none" stroke="#777777" stroke-width="1.35" stroke-linejoin="miter"/></g>
<g transform="translate(450.2 430.2) scale(1.06 1) rotate(-45)"><text class="lb" transform="scale(1.1 1)" x="-64.03 -56.39 -49.15 -41.21 -33.97 -30.76 -23.12 -15.49 -7.85" y="0">23.0.2020</text><path d="M-50.21 -7.51 L-47.08 -9.65 L-47.08 0" fill="none" stroke="#777777" stroke-width="1.35" stroke-linejoin="miter"/></g>
<g transform="translate(422.7 430.2) scale(1.06 1) rotate(-45)"><text class="lb" transform="scale(1.1 1)" x="-55.89 -49.15 -41.21 -33.97 -30.76 -23.12 -15.49 -7.85" y="0">7.0.2020</text><path d="M-65.81 -7.51 L-62.68 -9.65 L-62.68 0 M-50.21 -7.51 L-47.08 -9.65 L-47.08 0" fill="none" stroke="#777777" stroke-width="1.35" stroke-linejoin="miter"/></g>
<g transform="translate(395.1 430.2) scale(1.06 1) rotate(-45)"><text class="lb" transform="scale(1.1 1)" x="-49.15 -41.21 -33.97 -30.76 -23.12 -15.49 -7.85" y="0">.0.2020</text><path d="M-63.71 -7.51 L-60.58 -9.65 L-60.58 0 M-58.51 -7.51 L-55.38 -9.65 L-55.38 0 M-50.21 -7.51 L-47.08 -9.65 L-47.08 0" fill="none" stroke="#777777" stroke-width="1.35" stroke-linejoin="miter"/></g>
<g transform="translate(367.5 430.2) scale(1.06 1) rotate(-45)"><text class="lb" transform="scale(1.1 1)" x="-64.03 -56.39 -49.15 -41.21 -33.97 -30.76 -23.12 -15.49 -7.85" y="0">05.0.2020</text><path d="M-50.21 -7.51 L-47.08 -9.65 L-47.08 0" fill="none" stroke="#777777" stroke-width="1.35" stroke-linejoin="miter"/></g>
<g transform="translate(338.9 430.2) scale(1.06 1) rotate(-45)"><text class="lb" transform="scale(1.1 1)" x="-66.94 -59.30 -52.06 -48.85 -41.21 -33.97 -30.76 -23.12 -15.49 -7.85" y="0">29.09.2020</text></g>
<g transform="translate(311.3 430.2) scale(1.06 1) rotate(-45)"><text class="lb" transform="scale(1.1 1)" x="-66.94 -59.30 -52.06 -48.85 -41.21 -33.97 -30.76 -23.12 -15.49 -7.85" y="0">23.09.2020</text></g>
<g transform="translate(283.8 430.2) scale(1.06 1) rotate(-45)"><text class="lb" transform="scale(1.1 1)" x="-58.80 -52.06 -48.85 -41.21 -33.97 -30.76 -23.12 -15.49 -7.85" y="0">7.09.2020</text><path d="M-69.01 -7.51 L-65.88 -9.65 L-65.88 0" fill="none" stroke="#777777" stroke-width="1.35" stroke-linejoin="miter"/></g>
<g transform="translate(256.2 430.2) scale(1.06 1) rotate(-45)"><text class="lb" transform="scale(1.1 1)" x="-52.06 -48.85 -41.21 -33.97 -30.76 -23.12 -15.49 -7.85" y="0">.09.2020</text><path d="M-66.91 -7.51 L-63.78 -9.65 L-63.78 0 M-61.71 -7.51 L-58.58 -9.65 L-58.58 0" fill="none" stroke="#777777" stroke-width="1.35" stroke-linejoin="miter"/></g>
<g transform="translate(228.6 430.2) scale(1.06 1) rotate(-45)"><text class="lb" transform="scale(1.1 1)" x="-66.94 -59.30 -52.06 -48.85 -41.21 -33.97 -30.76 -23.12 -15.49 -7.85" y="0">05.09.2020</text></g>
<g transform="translate(201.1 430.2) scale(1.06 1) rotate(-45)"><text class="lb" transform="scale(1.1 1)" x="-66.94 -59.30 -52.06 -48.85 -41.21 -33.97 -30.76 -23.12 -15.49 -7.85" y="0">30.08.2020</text></g>
<g transform="translate(173.5 430.2) scale(1.06 1) rotate(-45)"><text class="lb" transform="scale(1.1 1)" x="-66.94 -59.30 -52.06 -48.85 -41.21 -33.97 -30.76 -23.12 -15.49 -7.85" y="0">24.08.2020</text></g>
<g transform="translate(144.9 430.2) scale(1.06 1) rotate(-45)"><text class="lb" transform="scale(1.1 1)" x="-59.30 -52.06 -48.85 -41.21 -33.97 -30.76 -23.12 -15.49 -7.85" y="0">8.08.2020</text><path d="M-70.11 -7.51 L-66.98 -9.65 L-66.98 0" fill="none" stroke="#777777" stroke-width="1.35" stroke-linejoin="miter"/></g>
<g transform="translate(117.3 430.2) scale(1.06 1) rotate(-45)"><text class="lb" transform="scale(1.1 1)" x="-59.30 -52.06 -48.85 -41.21 -33.97 -30.76 -23.12 -15.49 -7.85" y="0">2.08.2020</text><path d="M-70.11 -7.51 L-66.98 -9.65 L-66.98 0" fill="none" stroke="#777777" stroke-width="1.35" stroke-linejoin="miter"/></g>
<g transform="translate(89.7 430.2) scale(1.06 1) rotate(-45)"><text class="lb" transform="scale(1.1 1)" x="-66.94 -59.30 -52.06 -48.85 -41.21 -33.97 -30.76 -23.12 -15.49 -7.85" y="0">06.08.2020</text></g>
<g transform="translate(62.1 430.2) scale(1.06 1) rotate(-45)"><text class="lb" transform="scale(1.1 1)" x="-63.03 -51.06 -47.85 -40.71 -33.97 -30.76 -23.12 -15.49 -7.85" y="0">3.07.2020</text><path d="M-60.61 -7.51 L-57.48 -9.65 L-57.48 0" fill="none" stroke="#777777" stroke-width="1.35" stroke-linejoin="miter"/></g>
<g transform="translate(34.6 430.2) scale(1.06 1) rotate(-45)"><text class="lb" transform="scale(1.1 1)" x="-65.94 -58.30 -51.06 -47.85 -40.71 -33.97 -30.76 -23.12 -15.49 -7.85" y="0">25.07.2020</text></g>
<g transform="translate(7.0 430.2) scale(1.06 1) rotate(-45)"><text class="lb" transform="scale(1.1 1)" x="-58.30 -51.06 -47.85 -40.71 -33.97 -30.76 -23.12 -15.49 -7.85" y="0">9.07.2020</text><path d="M-69.01 -7.51 L-65.88 -9.65 L-65.88 0" fill="none" stroke="#777777" stroke-width="1.35" stroke-linejoin="miter"/></g>
</g>
</svg>
</body></html>
